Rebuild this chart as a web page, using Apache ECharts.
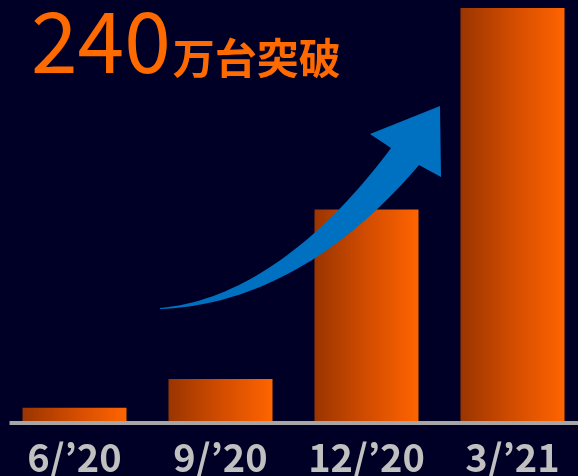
<!DOCTYPE html>
<html><head><meta charset="utf-8">
<script src="https://cdn.jsdelivr.net/npm/echarts@6/dist/echarts.min.js"></script>
<style>html,body{margin:0;padding:0;background:#000026;}#c{width:578px;height:476px;}</style>
</head><body><div id="c"></div>
<script>
var categories = ["6/\u201920", "9/\u201920", "12/\u201920", "3/\u201921"];
var values = [9, 26, 126, 245];
var titleNumber = "240";
var titleUnit = "万台突破";

var allData = values.map(function(v,i){return [i,v];});
var lowData = allData.slice(0,2);
var highData = allData.slice(2);
var grad = {type:'linear',x:0,y:0,x2:1,y2:0,colorStops:[{offset:0,color:'#9a3500'},{offset:0.5,color:'#d24c00'},{offset:1,color:'#ff6400'}]};
var barLabel = {show:true,position:['50%','100%'],offset:[0,35],align:'center',verticalAlign:'middle',
  color:'#c0c0c0',fontSize:38,fontWeight:'bold',fontFamily:'Noto Sans CJK JP',
  formatter:function(p){return categories[p.value[0]];}};

function cubic(p0,p1,p2,p3,n){
  var pts=[];
  for(var i=0;i<=n;i++){var t=i/n,u=1-t;
    pts.push([u*u*u*p0[0]+3*u*u*t*p1[0]+3*u*t*t*p2[0]+t*t*t*p3[0],
              u*u*u*p0[1]+3*u*u*t*p1[1]+3*u*t*t*p2[1]+t*t*t*p3[1]]);}
  return pts;
}
var arrowPts = [].concat(
  cubic([160,308],[250,300],[330,230],[391,148],40),
  [[370,134],[440,106],[441,177]],
  cubic([419,165],[340,258],[250,306],[160,309],40)
);

var chart = echarts.init(document.getElementById('c'), null, {renderer:'canvas'});
chart.setOption({
  backgroundColor:'#000026',
  animation:false,
  title:{
    text:'{a|'+titleNumber+'}{b|'+titleUnit+'}',
    left:26, top:-12,
    textStyle:{rich:{
      a:{fontFamily:'Noto Sans CJK JP',fontSize:84,fontWeight:'normal',color:'#ff6a00',verticalAlign:'bottom',lineHeight:90},
      b:{fontFamily:'Noto Sans CJK JP',fontSize:42,fontWeight:'bold',color:'#ff6a00',verticalAlign:'bottom',lineHeight:90,padding:[0,0,4,2]}
    }}
  },
  grid:{left:9.5,right:0,top:8,bottom:53,containLabel:false},
  xAxis:{type:'value',min:-0.4452,max:3.4486,show:false,splitLine:{show:false}},
  yAxis:{type:'value',min:0,max:245,show:false,splitLine:{show:false}},
  series:[
    {type:'bar',data:lowData,barWidth:104,barGap:'-100%',itemStyle:{color:grad},label:barLabel,z:1},
    {type:'line',data:[],z:2,symbol:'none',
      markLine:{silent:true,symbol:'none',label:{show:false},lineStyle:{color:'#a6a6a6',width:4,type:'solid'},data:[{yAxis:0}]}},
    {type:'bar',data:highData,barWidth:104,barGap:'-100%',itemStyle:{color:grad},label:barLabel,z:3}
  ],
  graphic:[{type:'polygon',z:100,shape:{points:arrowPts},style:{fill:'#0070c0'}}]
});
</script></body></html>
